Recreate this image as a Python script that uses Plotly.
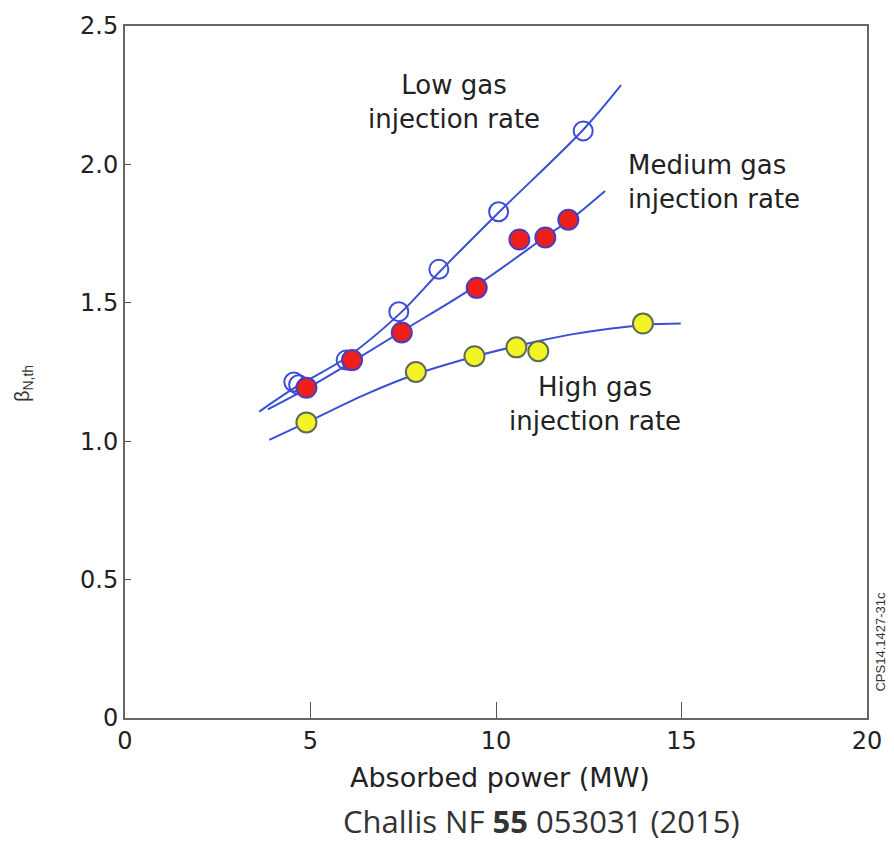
import plotly.graph_objects as go

# Measured points: absorbed power (MW) vs normalised thermal beta
low_x = [4.55, 4.68, 5.96, 7.38, 8.46, 10.07, 12.35]
low_y = [1.214, 1.204, 1.293, 1.468, 1.621, 1.829, 2.121]

med_x = [4.89, 6.12, 7.46, 9.48, 10.63, 11.33, 11.95]
med_y = [1.193, 1.293, 1.393, 1.554, 1.729, 1.736, 1.800]

high_x = [4.89, 7.84, 9.42, 10.55, 11.14, 13.96]
high_y = [1.068, 1.250, 1.307, 1.339, 1.325, 1.425]

# Trend curves drawn through each data set
low_fit_x = [3.62, 4.6, 6.0, 7.4, 8.5, 10.1, 12.35, 13.37]
low_fit_y = [1.107, 1.195, 1.305, 1.460, 1.615, 1.830, 2.125, 2.286]

med_fit_x = [3.85, 4.9, 6.1, 7.5, 9.5, 11.4, 12.0, 12.94]
med_fit_y = [1.115, 1.190, 1.285, 1.400, 1.565, 1.745, 1.800, 1.904]

high_fit_x = [3.89, 4.9, 6.5, 7.8, 9.4, 10.6, 12.0, 14.0, 14.98]
high_fit_y = [1.005, 1.068, 1.170, 1.240, 1.305, 1.345, 1.385, 1.420, 1.425]

x_ticks = [0, 5, 10, 15, 20]
y_ticks = [0, 0.5, 1.0, 1.5, 2.0, 2.5]
y_tick_text = ["0", "0.5", "1.0", "1.5", "2.0", "2.5"]

LINE_BLUE = "#3a4ed6"
FONT = "Liberation Sans, Arial, sans-serif"
WIDE = "DejaVu Sans, sans-serif"

fig = go.Figure()

for fx, fy in [(low_fit_x, low_fit_y), (med_fit_x, med_fit_y), (high_fit_x, high_fit_y)]:
    fig.add_trace(go.Scatter(
        x=fx, y=fy, mode="lines",
        line=dict(color=LINE_BLUE, width=2, shape="spline", smoothing=1.0),
        hoverinfo="skip", showlegend=False,
    ))

fig.add_trace(go.Scatter(
    x=low_x, y=low_y, mode="markers", name="Low gas injection rate",
    marker=dict(symbol="circle-open", size=19, color=LINE_BLUE, line=dict(width=2)),
    showlegend=False,
))
fig.add_trace(go.Scatter(
    x=med_x, y=med_y, mode="markers", name="Medium gas injection rate",
    marker=dict(symbol="circle", size=20, color="#ee1f1a",
                line=dict(color="#4b3cc0", width=2)),
    showlegend=False,
))
fig.add_trace(go.Scatter(
    x=high_x, y=high_y, mode="markers", name="High gas injection rate",
    marker=dict(symbol="circle", size=20, color="#f2f424",
                line=dict(color="#5f6b5a", width=2)),
    showlegend=False,
))

label_font = dict(family=WIDE, size=26, color="#222222")
annotations = [
    dict(x=8.86, y=2.225, xref="x", yref="y", text="Low gas<br>injection rate",
         showarrow=False, align="center", yanchor="middle", font=label_font),
    dict(x=13.5, y=1.935, xref="x", yref="y", text="Medium gas<br>injection rate",
         showarrow=False, align="left", xanchor="left", yanchor="middle", font=label_font),
    dict(x=12.67, y=1.136, xref="x", yref="y", text="High gas<br>injection rate",
         showarrow=False, align="center", yanchor="middle", font=label_font),
    # y-axis title
    dict(x=-0.137, y=0.483, xref="paper", yref="paper",
         text="β<sub>N,th</sub>", textangle=-90, showarrow=False,
         xanchor="center", yanchor="middle",
         font=dict(family=FONT, size=20, color="#333333")),
    # x-axis title
    dict(x=0.506, y=-0.0857, xref="paper", yref="paper",
         text="Absorbed power (MW)", showarrow=False,
         xanchor="center", yanchor="middle",
         font=dict(family=WIDE, size=27, color="#222222")),
    # reference
    dict(x=0.561, y=-0.149, xref="paper", yref="paper",
         text="Challis NF <b>55</b> 053031 (2015)", showarrow=False,
         xanchor="center", yanchor="middle",
         font=dict(family="Open Sans, sans-serif", size=31, color="#333333")),
    # figure id
    dict(x=1.018, y=0.111, xref="paper", yref="paper",
         text="CPS14.1427-31c", textangle=-90, showarrow=False,
         xanchor="center", yanchor="middle",
         font=dict(family=FONT, size=13, color="#333333")),
]

fig.update_layout(
    width=894, height=845,
    margin=dict(l=125, r=24, t=18, b=127),
    paper_bgcolor="white", plot_bgcolor="white",
    annotations=annotations,
    showlegend=False,
)

fig.update_xaxes(
    range=[0, 20], tickvals=x_ticks, ticks="inside", ticklen=16, tickwidth=1,
    tickcolor="#555555", showgrid=False, zeroline=False,
    showline=True, linecolor="#666666", linewidth=2, mirror=True,
    tickfont=dict(family=WIDE, size=24, color="#222222"),
)
fig.update_yaxes(
    range=[0, 2.5], tickvals=y_ticks, ticktext=y_tick_text, ticks="inside",
    ticklen=6, tickwidth=1, tickcolor="#555555", showgrid=False, zeroline=False,
    showline=True, linecolor="#666666", linewidth=2, mirror=True,
    tickfont=dict(family=WIDE, size=24, color="#222222"),
)

fig.write_html("out.html")
